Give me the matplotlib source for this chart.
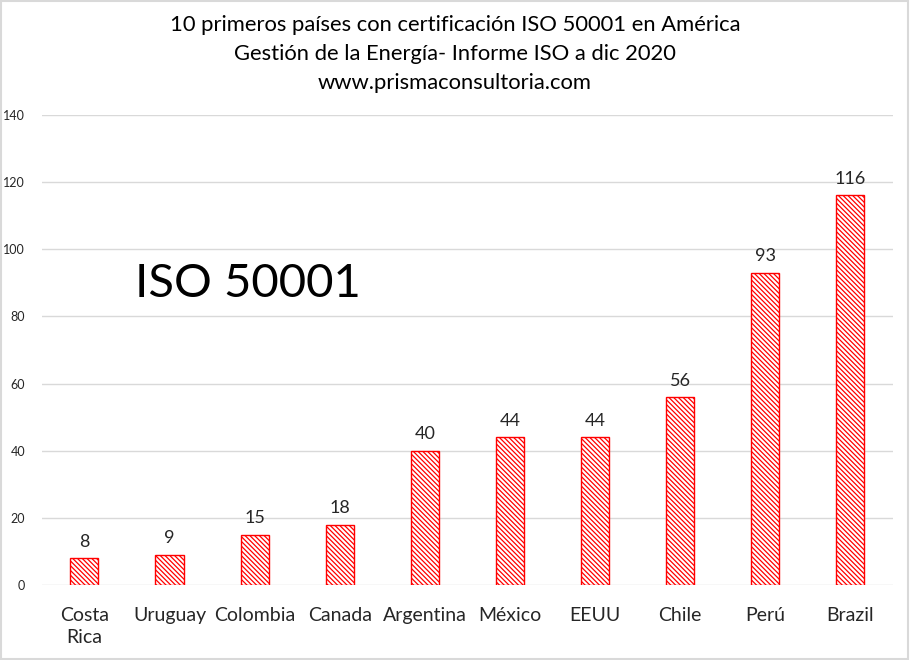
import matplotlib
matplotlib.use("Agg")
import matplotlib.pyplot as plt
from matplotlib.patches import Rectangle

paises = ["Costa\nRica", "Uruguay", "Colombia", "Canada", "Argentina",
          "México", "EEUU", "Chile", "Perú", "Brazil"]
certificados = [8, 9, 15, 18, 40, 44, 44, 56, 93, 116]
y_ticks = [0, 20, 40, 60, 80, 100, 120, 140]

plt.rcParams["font.family"] = ["Lato", "DejaVu Sans"]
plt.rcParams["hatch.color"] = "red"
plt.rcParams["hatch.linewidth"] = 0.9

fig = plt.figure(figsize=(9.1, 6.6), dpi=100)
ax = fig.add_axes([0.046, 0.1136, 0.935, 0.7124])

x = range(len(paises))
bars = ax.bar(x, certificados, width=0.33, color="white", edgecolor="red",
              hatch="\\" * 7, linewidth=1.0, zorder=3)
for xi, v in zip(x, certificados):
    ax.text(xi, v + 2.5, str(v), ha="center", va="bottom", fontsize=13,
            color="#262626")

ax.set_xlim(-0.5, len(paises) - 0.5)
ax.set_ylim(0, 140)
ax.set_yticks(y_ticks)
ax.set_xticks(list(x))
ax.set_xticklabels(paises, fontsize=14, color="#262626", linespacing=1.35)
ax.tick_params(axis="y", labelsize=9, colors="#262626", length=0, pad=12)
ax.tick_params(axis="x", length=0, pad=16)
ax.grid(axis="y", color="#d9d9d9", linewidth=1.0, zorder=0)
for s in ax.spines.values():
    s.set_visible(False)

ax.text(0.11, 0.64, "ISO 50001", transform=ax.transAxes, fontsize=34,
        color="black", ha="left", va="center")

title_kw = dict(ha="center", va="center", fontsize=15.8, color="black")
fig.text(0.5, 0.962, "10 primeros países con certificación ISO 50001 en América", **title_kw)
fig.text(0.5, 0.918, "Gestión de la Energía- Informe ISO a dic 2020", **title_kw)
fig.text(0.5, 0.874, "www.prismaconsultoria.com", **title_kw)

fig.patches.append(Rectangle((0.001, 0.001), 0.997, 0.997, transform=fig.transFigure,
                             fill=False, edgecolor="#d9d9d9", linewidth=1.5))

fig.savefig("out.png", dpi=100)
